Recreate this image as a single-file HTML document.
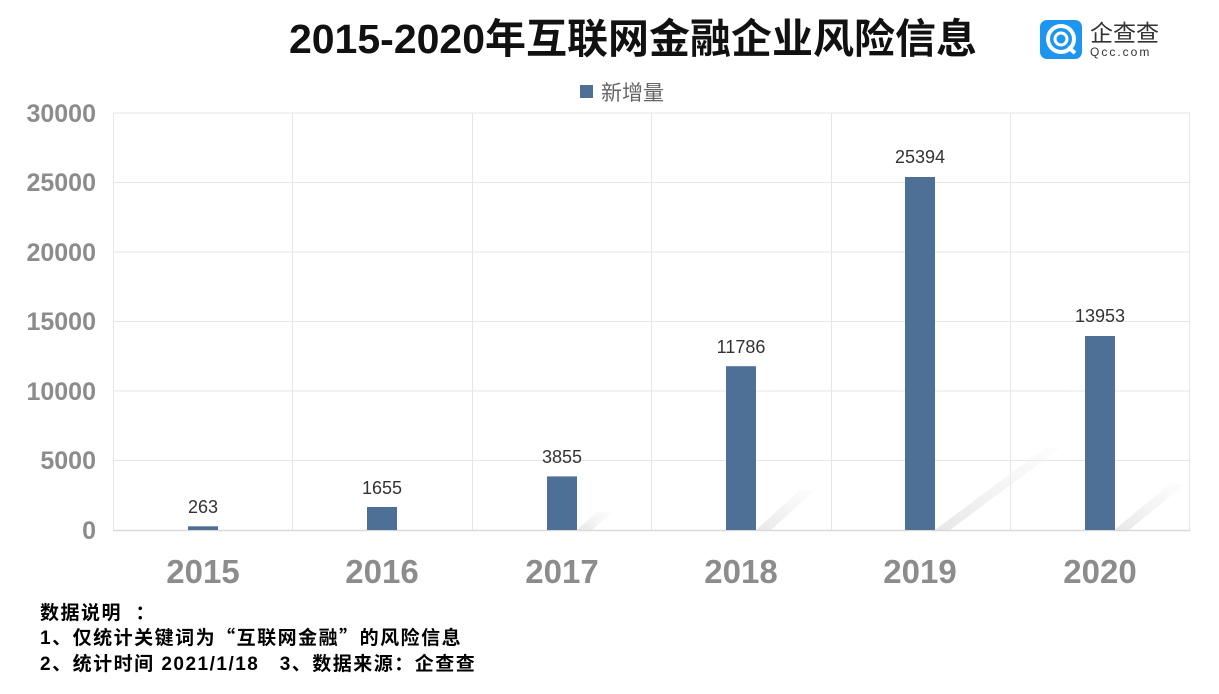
<!DOCTYPE html>
<html><head><meta charset="utf-8"><style>
body{margin:0;background:#fff;}
</style></head><body>
<svg width="1219" height="689" xmlns="http://www.w3.org/2000/svg" font-family="Liberation Sans, Noto Sans CJK SC, sans-serif">
<defs>
<linearGradient id="sh" x1="0" y1="1" x2="1" y2="0">
<stop offset="0" stop-color="#e4e4e4" stop-opacity="0.9"/><stop offset="1" stop-color="#f2f2f2" stop-opacity="0.2"/></linearGradient>
</defs>
<text x="633" y="53" font-size="41" font-weight="bold" text-anchor="middle" fill="#111">2015-2020年互联网金融企业风险信息</text>
<!-- logo -->
<rect x="1040" y="20" width="42" height="39" rx="7" fill="#1e96f0"/>
<circle cx="1061" cy="39" r="13" fill="none" stroke="#fff" stroke-width="4"/>
<circle cx="1061" cy="39" r="6" fill="none" stroke="#fff" stroke-width="3"/>
<line x1="1068" y1="47" x2="1075" y2="53" stroke="#fff" stroke-width="4"/>
<text x="1090" y="41" font-size="23" fill="#333">企查查</text>
<text x="1090" y="56" font-size="12" fill="#333" letter-spacing="2">Qcc.com</text>
<!-- legend -->
<rect x="580" y="85" width="13" height="13" fill="#4f7096"/>
<text x="601" y="100" font-size="21" fill="#666">新增量</text>
<!-- grid -->
<g stroke="#e6e6e6" stroke-width="1">
<line x1="113" y1="113" x2="1190" y2="113"/><line x1="113" y1="182.5" x2="1190" y2="182.5"/>
<line x1="113" y1="252" x2="1190" y2="252"/><line x1="113" y1="321.5" x2="1190" y2="321.5"/>
<line x1="113" y1="391" x2="1190" y2="391"/><line x1="113" y1="460.5" x2="1190" y2="460.5"/>
<line x1="113.5" y1="113" x2="113.5" y2="530"/><line x1="292.5" y1="113" x2="292.5" y2="530"/>
<line x1="472.5" y1="113" x2="472.5" y2="530"/><line x1="651.5" y1="113" x2="651.5" y2="530"/>
<line x1="831.5" y1="113" x2="831.5" y2="530"/><line x1="1010.5" y1="113" x2="1010.5" y2="530"/>
<line x1="1189.5" y1="113" x2="1189.5" y2="530"/>
</g>
<line x1="113" y1="530.5" x2="1190" y2="530.5" stroke="#d9d9d9" stroke-width="1.5"/>
<!-- shadows -->
<polygon points="577,530 592,530 612,512 597,512" fill="url(#sh)"/>
<polygon points="756,530 771,530 815,490 800,490" fill="url(#sh)"/>
<polygon points="935,530 950,530 1060,448 1045,448" fill="url(#sh)"/>
<polygon points="1114,530 1129,530 1185,484 1170,484" fill="url(#sh)"/>
<!-- y labels -->
<g font-size="25" font-weight="bold" fill="#8c8c8c" text-anchor="end">
<text x="96" y="122">30000</text><text x="96" y="191">25000</text><text x="96" y="261">20000</text>
<text x="96" y="330">15000</text><text x="96" y="400">10000</text><text x="96" y="469">5000</text><text x="96" y="539">0</text>
</g>
<!-- bars -->
<g fill="#4f7096">
<rect x="188" y="526.3" width="30" height="3.7"/>
<rect x="367" y="507" width="30" height="23"/>
<rect x="547" y="476.4" width="30" height="53.6"/>
<rect x="726" y="366.2" width="30" height="163.8"/>
<rect x="905" y="177" width="30" height="353"/>
<rect x="1085" y="336" width="30" height="194"/>
</g>
<g font-size="18" fill="#333" text-anchor="middle">
<text x="203" y="513">263</text><text x="382" y="494">1655</text><text x="562" y="463">3855</text>
<text x="741" y="353">11786</text><text x="920" y="163">25394</text><text x="1100" y="322">13953</text>
</g>
<g font-size="33" font-weight="bold" fill="#8c8c8c" text-anchor="middle">
<text x="203" y="583">2015</text><text x="382" y="583">2016</text><text x="562" y="583">2017</text>
<text x="741" y="583">2018</text><text x="920" y="583">2019</text><text x="1100" y="583">2020</text>
</g>
<g font-size="19" font-weight="bold" fill="#000" letter-spacing="1.5">
<text x="40" y="619">数据说明&#160;&#160;：</text>
<text x="40" y="644">1、仅统计关键词为<tspan font-family="Noto Sans CJK SC, sans-serif">“</tspan>互联网金融<tspan font-family="Noto Sans CJK SC, sans-serif">”</tspan>的风险信息</text>
<text x="40" y="670">2、统计时间&#160;2021/1/18&#160;&#160;&#160;3、数据来源：企查查</text>
</g>
</svg>
</body></html>
